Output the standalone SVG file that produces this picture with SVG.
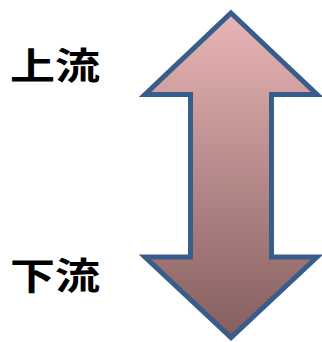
<svg xmlns="http://www.w3.org/2000/svg" width="322" height="342" viewBox="0 0 322 342">
  <defs>
    <linearGradient id="fillGrad" x1="0" y1="0" x2="0" y2="1">
      <stop offset="0" stop-color="#E9B5B6"/>
      <stop offset="1" stop-color="#855E5E"/>
    </linearGradient>
    <style>
      .label { font-family: "Noto Sans CJK JP", "Noto Sans CJK SC", sans-serif; font-weight: bold; font-size: 37px; fill: #000; }
      .arrow { fill: url(#fillGrad); stroke: #385D8A; stroke-width: 5; stroke-linejoin: miter; stroke-miterlimit: 10; }
    </style>
  </defs>
  <g id="connectors">
    <polygon class="arrow" points="231,13 317,94.5 271.5,94.5 271.5,257 317,257 231,337.5 145,257 190.5,257 190.5,94.5 145,94.5"/>
  </g>
  <g id="node-upstream">
    <text class="label" x="10" y="80" textLength="90" lengthAdjust="spacingAndGlyphs">上流</text>
  </g>
  <g id="node-downstream">
    <text class="label" x="10" y="290" textLength="90" lengthAdjust="spacingAndGlyphs">下流</text>
  </g>
</svg>
